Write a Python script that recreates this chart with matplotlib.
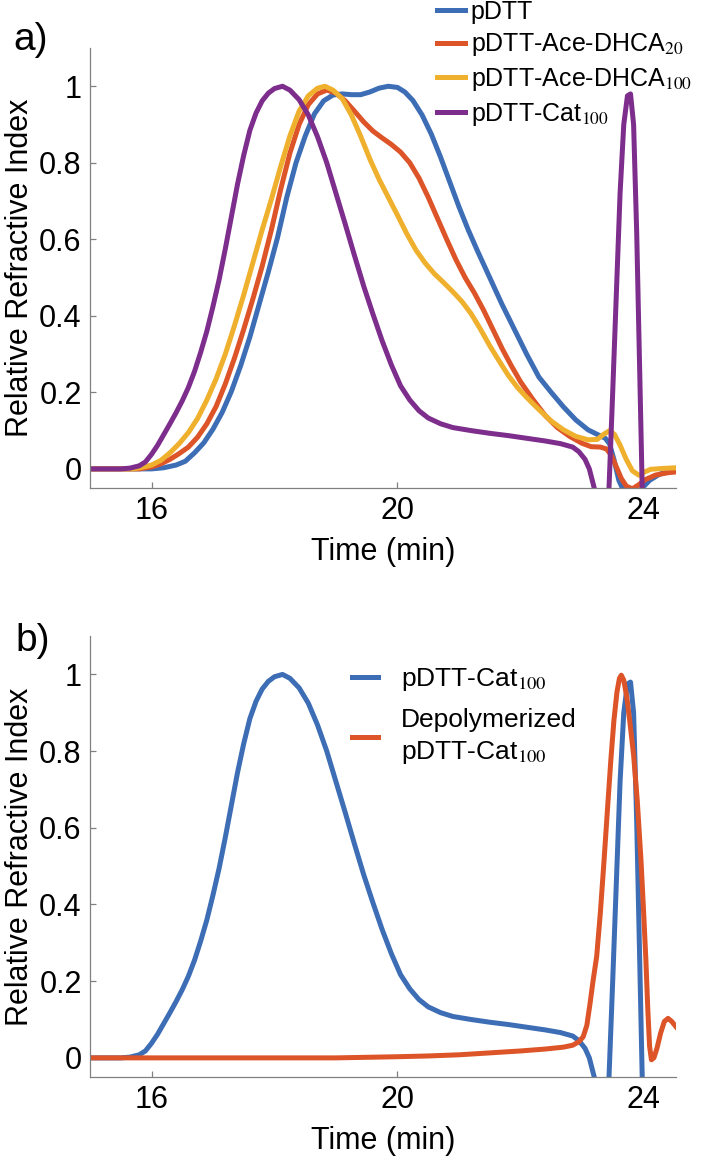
import matplotlib
matplotlib.use("Agg")
import matplotlib.pyplot as plt

plt.rcParams['font.family'] = ['Liberation Sans', 'DejaVu Sans']
plt.rcParams['mathtext.fontset'] = 'stix'

# colours
c_blue = '#3d6db5'
c_red = '#dc5428'
c_yellow = '#efb02e'
c_purple = '#7d2d8c'

# pDTT
t_pdtt = [15.0, 16.0, 16.2, 16.4, 16.55, 16.7, 16.85, 17.0, 17.15, 17.3, 17.45, 17.6,
          17.75, 17.9, 18.05, 18.2, 18.35, 18.5, 18.65, 18.8, 18.95, 19.1, 19.25, 19.4,
          19.55, 19.7, 19.85, 20.0, 20.12, 20.25, 20.4, 20.55, 20.7, 20.85, 21.0, 21.15,
          21.3, 21.5, 21.7, 21.9, 22.1, 22.3, 22.5, 22.7, 22.9, 23.1, 23.25, 23.38,
          23.45, 23.52, 23.6, 23.7, 23.82, 23.95, 24.1, 24.25, 24.4, 24.53]
y_pdtt = [0.0, 0.0, 0.003, 0.01, 0.02, 0.042, 0.068, 0.104, 0.148, 0.203, 0.27, 0.345,
          0.43, 0.515, 0.605, 0.71, 0.8, 0.87, 0.928, 0.962, 0.977, 0.98, 0.978, 0.978,
          0.985, 0.995, 1.0, 0.997, 0.985, 0.963, 0.925, 0.875, 0.815, 0.75, 0.685, 0.625,
          0.57, 0.5, 0.43, 0.365, 0.3, 0.24, 0.2, 0.162, 0.128, 0.102, 0.09, 0.08,
          0.065, 0.025, -0.03, -0.065, -0.07, -0.055, -0.03, -0.015, -0.006, -0.002]

# pDTT-Ace-DHCA20
t_dhca20 = [15.0, 15.8, 16.0, 16.15, 16.3, 16.45, 16.6, 16.75, 16.9, 17.05, 17.2, 17.35,
            17.5, 17.65, 17.8, 17.95, 18.1, 18.25, 18.4, 18.55, 18.7, 18.85, 19.0, 19.15,
            19.3, 19.45, 19.6, 19.75, 19.9, 20.05, 20.2, 20.35, 20.5, 20.65, 20.8, 20.95,
            21.1, 21.25, 21.4, 21.55, 21.7, 21.85, 22.0, 22.2, 22.4, 22.6, 22.8, 23.0,
            23.15, 23.3, 23.4, 23.48, 23.56, 23.64, 23.72, 23.82, 23.92, 24.03, 24.2, 24.4,
            24.53]
y_dhca20 = [0.0, 0.0, 0.005, 0.013, 0.025, 0.04, 0.057, 0.083, 0.118, 0.163, 0.222, 0.29,
            0.365, 0.445, 0.53, 0.625, 0.73, 0.825, 0.9, 0.952, 0.98, 0.99, 0.982, 0.962,
            0.935, 0.907, 0.883, 0.865, 0.848, 0.828, 0.8, 0.76, 0.71, 0.655, 0.6, 0.547,
            0.5, 0.46, 0.415, 0.365, 0.315, 0.27, 0.228, 0.182, 0.14, 0.108, 0.085, 0.067,
            0.058, 0.057, 0.052, 0.035, 0.005, -0.025, -0.045, -0.052, -0.042, -0.028, -0.016, -0.01,
            -0.008]

# pDTT-Ace-DHCA100
t_dhca100 = [15.0, 15.7, 15.85, 16.0, 16.15, 16.3, 16.45, 16.6, 16.75, 16.9, 17.05, 17.2,
             17.35, 17.5, 17.65, 17.8, 17.95, 18.1, 18.25, 18.4, 18.55, 18.7, 18.82, 18.95,
             19.1, 19.25, 19.4, 19.55, 19.7, 19.85, 20.0, 20.15, 20.3, 20.45, 20.6, 20.75,
             20.9, 21.05, 21.2, 21.35, 21.5, 21.65, 21.8, 21.95, 22.1, 22.3, 22.5, 22.7,
             22.9, 23.1, 23.25, 23.35, 23.45, 23.53, 23.62, 23.72, 23.82, 23.93, 24.02, 24.12,
             24.3, 24.53]
y_dhca100 = [0.0, 0.0, 0.004, 0.01, 0.022, 0.042, 0.066, 0.095, 0.132, 0.18, 0.235, 0.3,
             0.375, 0.455, 0.54, 0.625, 0.705, 0.79, 0.87, 0.935, 0.975, 0.995, 1.0, 0.99,
             0.968, 0.925, 0.87, 0.81, 0.757, 0.71, 0.663, 0.615, 0.572, 0.538, 0.51, 0.487,
             0.463, 0.437, 0.405, 0.365, 0.322, 0.283, 0.245, 0.213, 0.187, 0.155, 0.125, 0.102,
             0.085, 0.076, 0.077, 0.09, 0.1, 0.09, 0.062, 0.025, -0.005, -0.017, -0.008, -0.001,
             0.001, 0.003]

# pDTT-Cat100 (same trace in both panels)
t_cat = [15.0, 15.5, 15.65, 15.8, 15.9, 16.0, 16.1, 16.2, 16.3, 16.4, 16.5, 16.6,
         16.7, 16.8, 16.9, 17.0, 17.1, 17.2, 17.3, 17.4, 17.5, 17.6, 17.7, 17.8,
         17.9, 18.0, 18.13, 18.25, 18.4, 18.55, 18.7, 18.85, 19.0, 19.15, 19.3, 19.45,
         19.6, 19.75, 19.9, 20.05, 20.2, 20.35, 20.5, 20.7, 20.9, 21.2, 21.5, 21.8,
         22.1, 22.4, 22.65, 22.85, 22.95, 23.05, 23.12, 23.2, 23.3, 23.44, 23.5, 23.56,
         23.62, 23.68, 23.74, 23.79, 23.84, 23.89, 23.94, 23.98, 24.02, 24.06]
y_cat = [0.0, 0.0, 0.002, 0.008, 0.018, 0.038, 0.062, 0.09, 0.118, 0.147, 0.178, 0.213,
         0.255, 0.305, 0.36, 0.425, 0.495, 0.575, 0.66, 0.745, 0.82, 0.885, 0.93, 0.962,
         0.982, 0.994, 1.0, 0.99, 0.965, 0.925, 0.868, 0.8, 0.72, 0.64, 0.558, 0.478,
         0.405, 0.335, 0.272, 0.217, 0.18, 0.152, 0.133, 0.118, 0.108, 0.1, 0.093, 0.087,
         0.08, 0.073, 0.066, 0.057, 0.045, 0.025, 0.0, -0.05, -0.3, -0.05, 0.2, 0.46,
         0.72, 0.9, 0.975, 0.98, 0.9, 0.62, 0.25, -0.05, -0.25, -0.3]

# Depolymerized pDTT-Cat100
t_depol = [15.0, 16.0, 17.0, 18.0, 19.0, 20.0, 20.5, 21.0, 21.5, 22.0, 22.4, 22.7,
           22.85, 22.95, 23.02, 23.08, 23.13, 23.18, 23.24, 23.3, 23.36, 23.42, 23.47, 23.52,
           23.57, 23.61, 23.64, 23.68, 23.73, 23.78, 23.84, 23.9, 23.96, 24.0, 24.04, 24.07,
           24.1, 24.13, 24.17, 24.22, 24.28, 24.34, 24.4, 24.46, 24.53]
y_depol = [0.0, 0.0, 0.0, 0.0, 0.0, 0.003, 0.005, 0.008, 0.013, 0.018, 0.023, 0.028,
           0.033, 0.042, 0.055, 0.085, 0.14, 0.2, 0.265, 0.38, 0.516, 0.66, 0.777, 0.88,
           0.955, 0.99, 0.998, 0.985, 0.94, 0.875, 0.79, 0.67, 0.516, 0.39, 0.255, 0.13,
           0.03, -0.005, 0.0, 0.025, 0.065, 0.095, 0.103, 0.095, 0.081]

fig = plt.figure(figsize=(7.05, 11.65), dpi=100)
ax1 = fig.add_axes([0.1277, 0.5811, 0.8312, 0.3777])
ax2 = fig.add_axes([0.1277, 0.0755, 0.8312, 0.3785])

lw = 3.6
ax1.plot(t_pdtt, y_pdtt, color=c_blue, lw=lw, label='pDTT')
ax1.plot(t_dhca20, y_dhca20, color=c_red, lw=lw, label=r'pDTT-Ace-DHCA$_{20}$')
ax1.plot(t_dhca100, y_dhca100, color=c_yellow, lw=lw, label=r'pDTT-Ace-DHCA$_{100}$')
ax1.plot(t_cat, y_cat, color=c_purple, lw=lw, label=r'pDTT-Cat$_{100}$')

ax2.plot(t_cat, y_cat, color=c_blue, lw=lw, label=r'pDTT-Cat$_{100}$')
ax2.plot(t_depol, y_depol, color=c_red, lw=lw, label='Depolymerized\n' + r'pDTT-Cat$_{100}$')

for ax in (ax1, ax2):
    ax.set_xlim(15, 24.53)
    ax.set_ylim(-0.05, 1.10)
    ax.set_xticks([16, 20, 24])
    ax.set_yticks([0, 0.2, 0.4, 0.6, 0.8, 1])
    ax.set_yticklabels(['0', '0.2', '0.4', '0.6', '0.8', '1'])
    for s in ('top', 'right'):
        ax.spines[s].set_visible(False)
    for s in ('left', 'bottom'):
        ax.spines[s].set_color('#808080')
        ax.spines[s].set_linewidth(0.9)
    ax.tick_params(direction='in', length=4, width=0.9, color='#808080',
                   labelsize=22, pad=6)
    ax.set_xlabel('Time (min)', fontsize=22, labelpad=8)
    ax.set_ylabel('Relative Refractive Index', fontsize=22, labelpad=3)

ax1.legend(loc='upper left', bbox_to_anchor=(437 / 705, 1.0), bbox_transform=fig.transFigure,
           frameon=False, fontsize=18, handlelength=1.1, handletextpad=0.25,
           labelspacing=0.3, borderpad=0, borderaxespad=0)
leg2 = ax2.legend(loc='upper left', bbox_to_anchor=(352 / 705, 1 - 666 / 1165),
                  bbox_transform=fig.transFigure, frameon=False, fontsize=19,
                  handlelength=1.0, handletextpad=0.85, labelspacing=0.55,
                  borderpad=0, borderaxespad=0)
for txt in leg2.get_texts():
    txt.set_linespacing(1.35)

fig.text(13 / 705, 1 - 40 / 1165, 'a)', fontsize=28, va='center', ha='left')
fig.text(15 / 705, 1 - 641 / 1165, 'b)', fontsize=28, va='center', ha='left')

fig.savefig('out.png', dpi=100)
